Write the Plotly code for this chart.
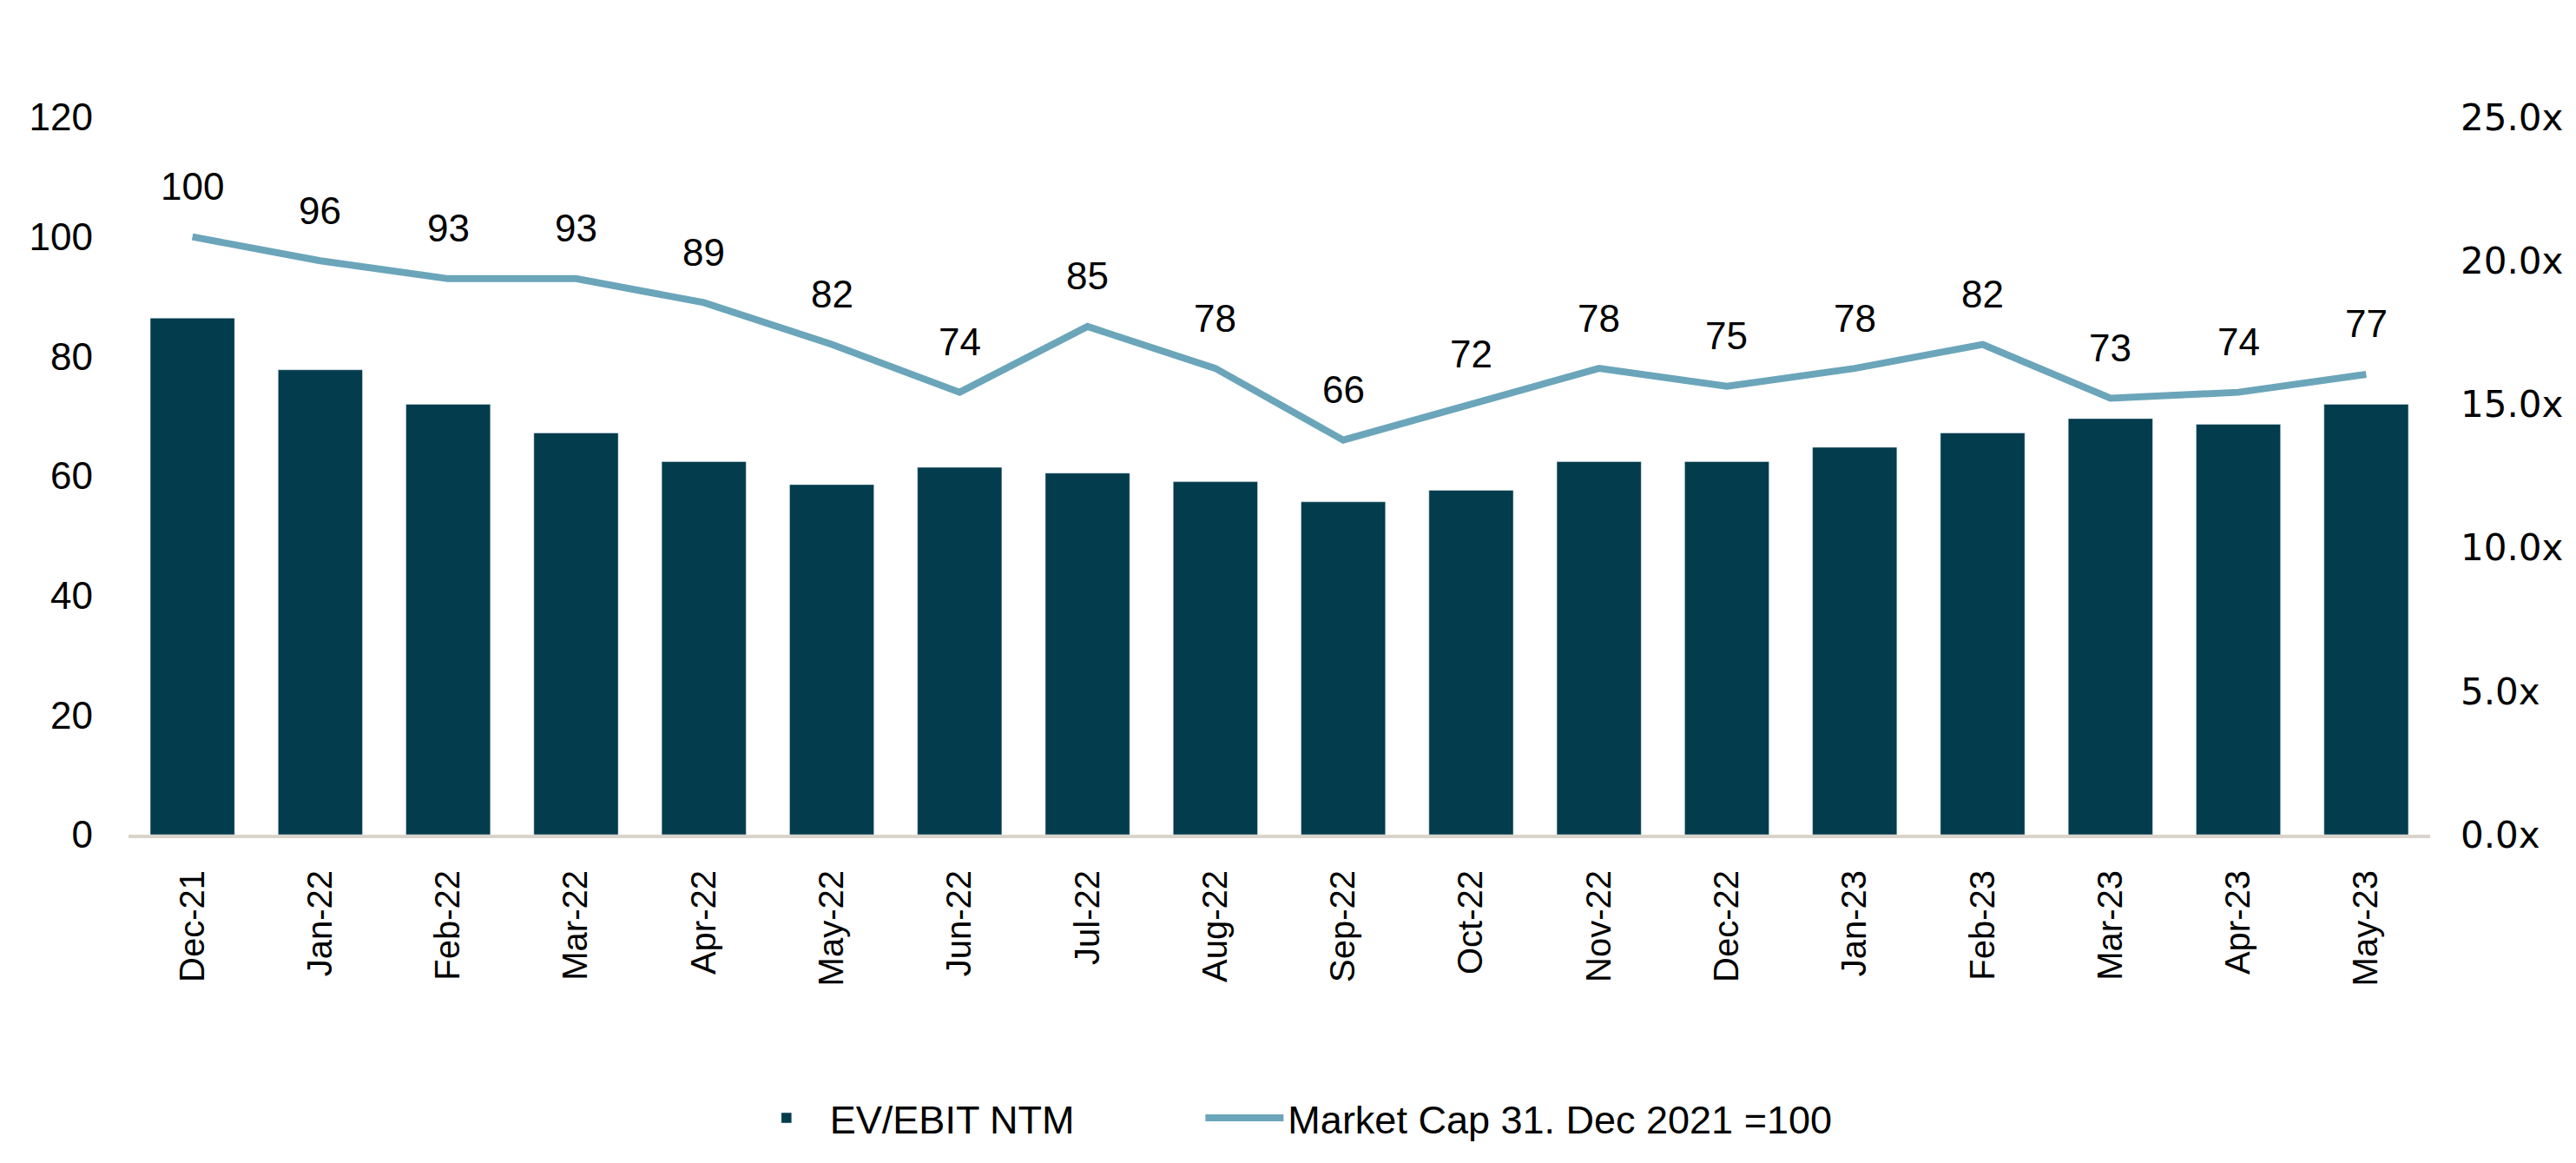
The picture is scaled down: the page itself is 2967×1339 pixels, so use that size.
import plotly.graph_objects as go

months = ["Dec-21", "Jan-22", "Feb-22", "Mar-22", "Apr-22", "May-22", "Jun-22", "Jul-22", "Aug-22",
          "Sep-22", "Oct-22", "Nov-22", "Dec-22", "Jan-23", "Feb-23", "Mar-23", "Apr-23", "May-23"]
ev_ebit = [18.0, 16.2, 15.0, 14.0, 13.0, 12.2, 12.8, 12.6, 12.3, 11.6, 12.0, 13.0, 13.0, 13.5, 14.0, 14.5, 14.3, 15.0]
market_cap = [100, 96, 93, 93, 89, 82, 74, 85, 78, 66, 72, 78, 75, 78, 82, 73, 74, 77]
left_ticks = [0, 20, 40, 60, 80, 100, 120]
right_ticks = [0, 5, 10, 15, 20, 25]

BAR = "#033C4C"
LINE = "#6BA5BA"
AXIS = "#D9D4CC"
LABEL_FONT = "Liberation Sans, Arial, sans-serif"
LEGEND_FONT = "Liberation Sans, Arial, sans-serif"

fig = go.Figure()
fig.add_trace(go.Bar(
    x=months, y=ev_ebit, name="EV/EBIT NTM", marker_color=BAR,
    yaxis="y2", hoverinfo="skip", legend="legend"))
fig.add_trace(go.Scatter(
    x=months, y=market_cap, name="Market Cap 31. Dec 2021 =100", mode="lines",
    line=dict(color=LINE, width=8), yaxis="y", legend="legend2"))

for m, v in zip(months, market_cap):
    fig.add_annotation(x=m, y=v, yref="y", text=str(v), showarrow=False,
                       yanchor="middle", yshift=58,
                       font=dict(family=LABEL_FONT, size=44, color="#000000"))

legend_common = dict(orientation="h", yanchor="middle", y=-0.395, xanchor="left",
                     font=dict(family=LEGEND_FONT, size=45, color="#000000"),
                     itemwidth=90, bgcolor="rgba(0,0,0,0)")

fig.update_layout(
    width=2967, height=1339,
    margin=dict(l=140, r=176, t=127, b=386, autoexpand=False),
    paper_bgcolor="white", plot_bgcolor="white",
    bargap=0.34,
    showlegend=True,
    legend=dict(x=0.267, **legend_common),
    legend2=dict(x=0.466, **legend_common),
    xaxis=dict(type="category", tickangle=-90, showgrid=False, zeroline=False,
               showline=True, linecolor=AXIS, linewidth=4,
               tickfont=dict(family="Liberation Sans, Arial, sans-serif", size=40, color="#000000"),
               ticks="", ticklabelstandoff=21),
    yaxis=dict(range=[0, 120], tickvals=left_ticks, showgrid=False, zeroline=False,
               showline=False, ticks="",
               tickfont=dict(family=LABEL_FONT, size=44, color="#000000"),
               ticklabelstandoff=40, overlaying="y2"),
    yaxis2=dict(range=[0, 25], tickvals=right_ticks, side="right", showgrid=False, zeroline=False,
                showline=False, ticks="",
                ticktext=[f"{t:.1f}x" for t in right_ticks],
                tickmode="array",
                tickfont=dict(family="DejaVu Sans, sans-serif", size=42, color="#000000"),
                ticklabelstandoff=34),
)

fig.write_html("out.html")
